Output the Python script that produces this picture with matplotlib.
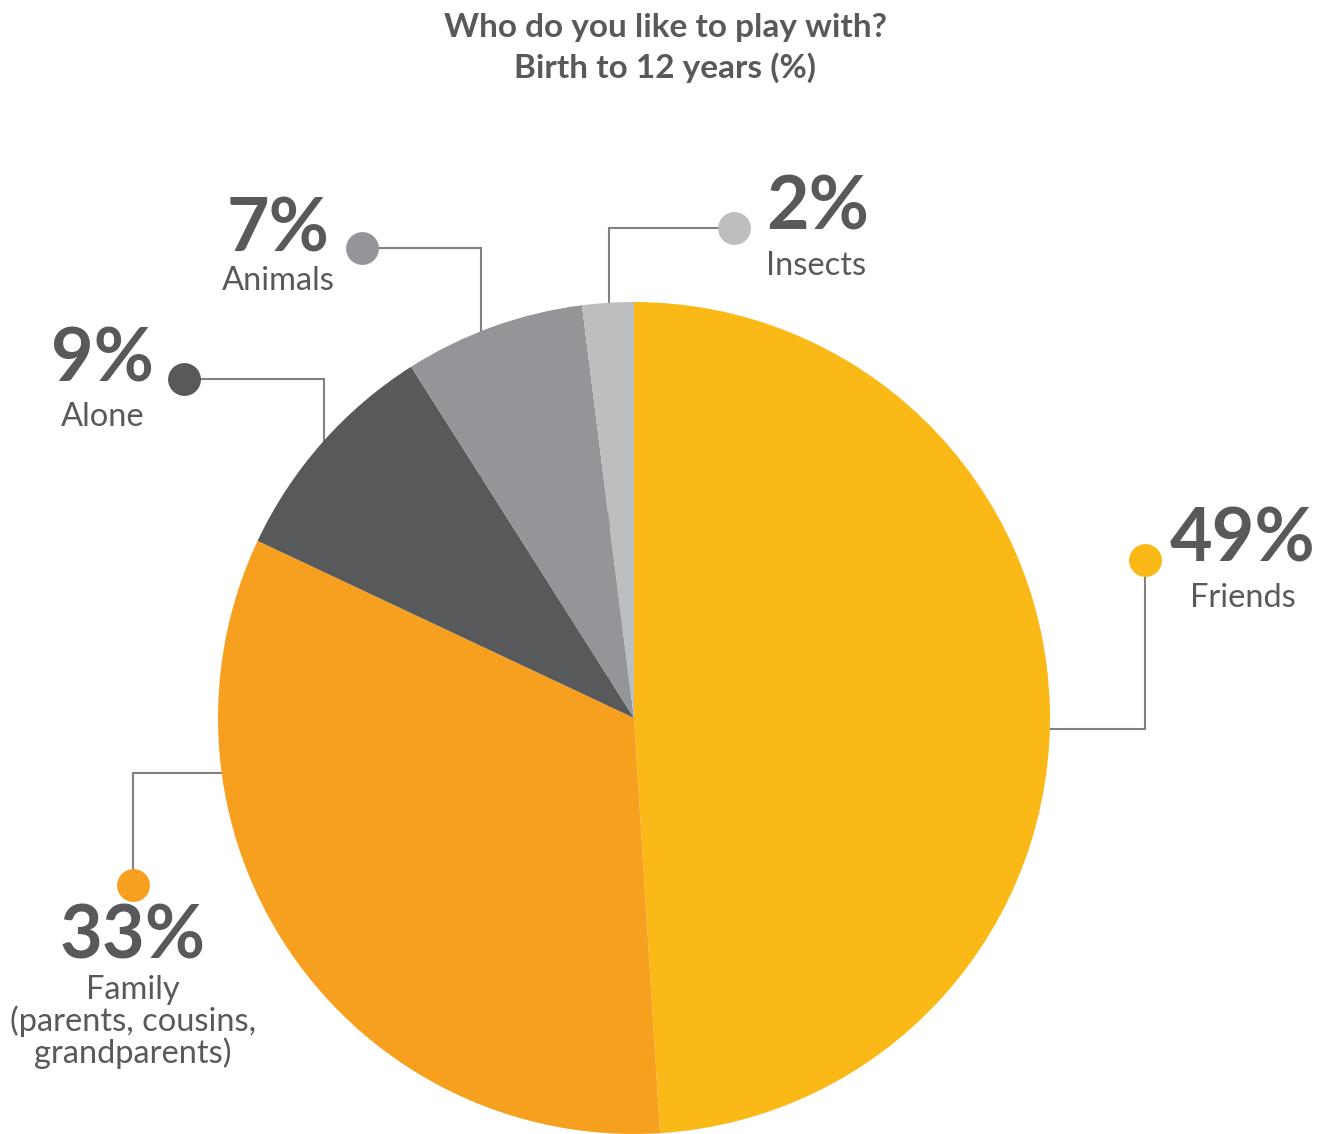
import matplotlib
matplotlib.use("Agg")
import matplotlib.pyplot as plt

# Who children like to play with, birth to 12 years (%)
categories = ["Friends", "Family", "Alone", "Animals", "Insects"]
shares = [49, 33, 9, 7, 2]
sublabels = ["Friends", "Family\n(parents, cousins,\ngrandparents)", "Alone", "Animals", "Insects"]
colors = ["#FBB917", "#F7A01F", "#58595B", "#939598", "#BCBEC0"]

title_lines = ["Who do you like to play with?", "Birth to 12 years (%)"]
text_color = "#58595B"
line_color = "#808285"

plt.rcParams["font.family"] = ["Lato", "DejaVu Sans"]

W, H = 1323, 1134
fig = plt.figure(figsize=(W / 100, H / 100), dpi=100)
ax = fig.add_axes([0, 0, 1, 1])

cx, cy, r = 634, 718, 416

# y axis is flipped, so increasing angles run clockwise on screen; -90 is the top
wedges, _ = ax.pie(shares, colors=colors, startangle=-90, counterclock=True,
                   center=(cx, cy), radius=r, frame=True,
                   wedgeprops=dict(linewidth=0, zorder=2))
ax.set_xlim(0, W)
ax.set_ylim(H, 0)
ax.set_aspect("equal")
ax.axis("off")

# leader lines: list of points from the pie out to the dot
leaders = {
    "Friends": [(cx + 300, 729), (1145, 729), (1145, 560)],
    "Family": [(cx - 300, 773), (133, 773), (133, 885)],
    "Alone": [(324, cy), (324, 379), (184, 379)],
    "Animals": [(481, cy), (481, 248), (362, 248)],
    "Insects": [(609, cy), (609, 228), (734, 228)],
}
for name, color in zip(categories, colors):
    pts = leaders[name]
    xs, ys = zip(*pts)
    ax.plot(xs, ys, color=line_color, lw=1.5, zorder=1, solid_joinstyle="miter")
    ax.scatter([xs[-1]], [ys[-1]], s=560, color=color, zorder=3, linewidths=0)

# value and category labels: (x, y of percent, y of name, alignment)
label_pos = {
    "Friends": (1243, 540, 598, "center"),
    "Family": (133, 937, 1022, "center"),
    "Alone": (103, 360, 417, "center"),
    "Animals": (278, 230, 281, "center"),
    "Insects": (766, 208, 266, "left"),
}
for name, share, sub in zip(categories, shares, sublabels):
    x, yp, yn, ha = label_pos[name]
    ax.text(x, yp, f"{share}%", ha=ha, va="center", fontsize=53,
            fontweight="bold", color=text_color)
    ax.text(x, yn, sub, ha=ha, va="center", fontsize=23.5, color=text_color,
            linespacing=1.0)

for line, y in zip(title_lines, [27, 68]):
    ax.text(665, y, line, ha="center", va="center", fontsize=24,
            fontweight="bold", color=text_color)

fig.savefig("out.png", dpi=100, facecolor="white")
